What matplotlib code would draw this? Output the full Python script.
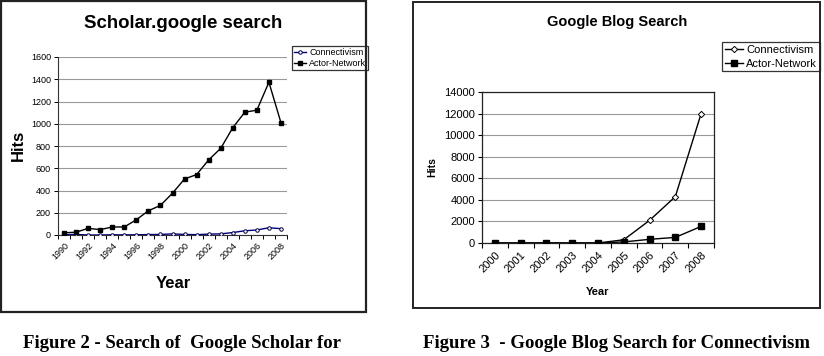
import matplotlib
matplotlib.use("Agg")
import matplotlib.pyplot as plt
from matplotlib.patches import Rectangle
import numpy as np

plt.rcParams['font.family'] = ['Liberation Sans', 'DejaVu Sans']

# Scholar.google search
scholar_years = list(range(1990, 2009))
scholar_conn = [3, 5, 0, 0, 2, 1, 2, 4, 5, 10, 5, 3, 8, 10, 22, 38, 45, 65, 57]
scholar_actor = [20, 25, 60, 48, 72, 72, 137, 218, 266, 376, 504, 543, 675, 779, 964, 1104, 1122, 1373, 1009]

# Google Blog Search
blog_years = list(range(2000, 2009))
blog_conn = [0, 0, 0, 0, 0, 300, 2100, 4300, 12000]
blog_actor = [0, 0, 0, 0, 0, 100, 340, 520, 1540]

W, H = 824, 356
fig = plt.figure(figsize=(W / 100, H / 100), dpi=100)


def px_axes(x0, y0, x1, y1):
    return fig.add_axes([x0 / W, 1 - y1 / H, (x1 - x0) / W, (y1 - y0) / H])


def px_text(x, y, s, **kw):
    fig.text(x / W, 1 - y / H, s, **kw)


# outer boxes
fig.patches.append(Rectangle((1 / W, 1 - 312 / H), 365 / W, 311 / H, transform=fig.transFigure,
                             fill=False, edgecolor='#222222', linewidth=1.6))
fig.patches.append(Rectangle((413 / W, 1 - 308 / H), 407 / W, 306 / H, transform=fig.transFigure,
                             fill=False, edgecolor='#222222', linewidth=1.4))

# ---- left chart
ax = px_axes(58, 57, 287, 235)
n = len(scholar_years)
x = np.arange(n) + 0.5
ax.plot(x, scholar_conn, color='#000080', lw=1.0, marker='o', ms=2.5, mfc='white', mec='#000040',
        mew=0.7, label='Connectivism', zorder=3)
ax.plot(x, scholar_actor, color='black', lw=1.0, marker='s', ms=2.6, label='Actor-Network', zorder=3)
ax.set_xlim(0, n)
ax.set_ylim(0, 1600)
ax.set_yticks(range(0, 1601, 200))
ax.yaxis.grid(True, color='#999999', lw=0.8)
ax.set_axisbelow(True)
for s in ['top', 'right']:
    ax.spines[s].set_visible(False)
ax.spines['left'].set_color('#333333')
ax.spines['bottom'].set_color('#333333')
ax.set_xticks(x[::2])
ax.set_xticklabels([str(y) for y in scholar_years[::2]], rotation=45, ha='right', rotation_mode='anchor')
ax.set_xticks(np.arange(n + 1), minor=True)
ax.tick_params(axis='x', which='major', length=0, labelsize=6.5, pad=4)
ax.tick_params(axis='x', which='minor', length=3, direction='out', width=0.7)
ax.tick_params(axis='y', labelsize=6.5, length=3, width=0.7, pad=2)
ax.legend(loc='upper left', bbox_to_anchor=(292 / W, 1 - 46 / H), bbox_transform=fig.transFigure,
          fontsize=6.5, frameon=True, fancybox=False, edgecolor='black', borderpad=0.2,
          handlelength=1.4, handletextpad=0.3, labelspacing=0.25, borderaxespad=0)
ax.get_legend().get_frame().set_linewidth(0.9)
px_text(183, 24, 'Scholar.google search', ha='center', va='center', fontsize=13.4, fontweight='bold')
px_text(18, 145, 'Hits', ha='center', va='center', fontsize=12, fontweight='bold', rotation=90)
px_text(173, 284, 'Year', ha='center', va='center', fontsize=12, fontweight='bold')

# ---- right chart
bx = px_axes(482, 92, 714, 243)
m = len(blog_years)
xb = np.arange(m) + 0.5
bx.plot(xb, blog_conn, color='black', lw=1.0, marker='D', ms=3.2, mfc='white', mec='black',
        mew=0.7, label='Connectivism', zorder=3)
bx.plot(xb, blog_actor, color='black', lw=1.0, marker='s', ms=3.8, label='Actor-Network', zorder=3)
bx.set_xlim(0, m)
bx.set_ylim(0, 14000)
bx.set_yticks(range(0, 14001, 2000))
bx.yaxis.grid(True, color='#999999', lw=0.8)
bx.set_axisbelow(True)
for s in bx.spines.values():
    s.set_color('#222222')
    s.set_linewidth(0.9)
bx.set_xticks(xb)
bx.set_xticklabels([str(y) for y in blog_years], rotation=45, ha='right', rotation_mode='anchor')
bx.set_xticks(np.arange(m + 1), minor=True)
bx.tick_params(axis='x', which='major', length=0, labelsize=8, pad=5)
bx.tick_params(axis='x', which='minor', length=3.5, direction='out', width=0.8)
bx.tick_params(axis='y', labelsize=8, length=3, width=0.8, pad=2)
bx.legend(loc='upper left', bbox_to_anchor=(722 / W, 1 - 42 / H), bbox_transform=fig.transFigure,
          fontsize=8, frameon=True, fancybox=False, edgecolor='black', borderpad=0.25,
          handlelength=1.6, handletextpad=0.3, labelspacing=0.35, borderaxespad=0)
bx.get_legend().get_frame().set_linewidth(0.9)
px_text(617, 22, 'Google Blog Search', ha='center', va='center', fontsize=10.5, fontweight='bold')
px_text(432, 167, 'Hits', ha='center', va='center', fontsize=7.5, fontweight='bold', rotation=90)
px_text(598, 292, 'Year', ha='center', va='center', fontsize=8, fontweight='bold')

# captions
px_text(23, 343, 'Figure 2 - Search of  Google Scholar for', ha='left', va='center', fontsize=13.5,
        fontweight='bold', family=['Liberation Serif', 'DejaVu Serif'])
px_text(423, 343, 'Figure 3  - Google Blog Search for Connectivism', ha='left', va='center', fontsize=13.5,
        fontweight='bold', family=['Liberation Serif', 'DejaVu Serif'])

fig.savefig('out.png', dpi=100)
